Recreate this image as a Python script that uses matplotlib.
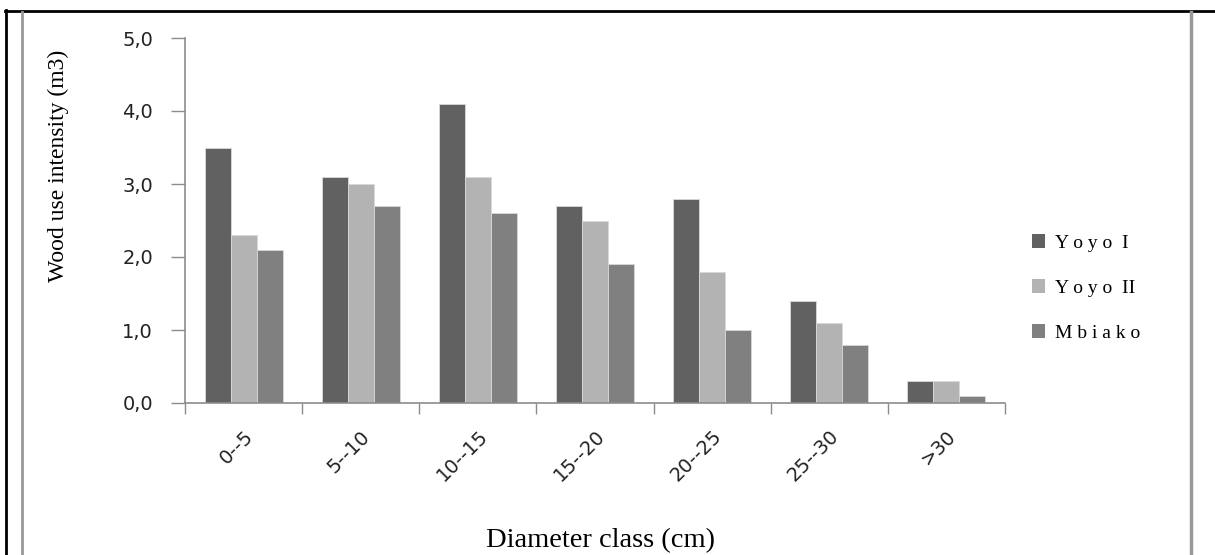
import numpy as np
import matplotlib.pyplot as plt
from matplotlib.lines import Line2D
from matplotlib.patches import Patch

# ----------------------------------------------------------------------
# Data
# ----------------------------------------------------------------------
classes = ['0--5', '5--10', '10--15', '15--20', '20--25', '25--30', '>30']
yoyo1 = [3.5, 3.1, 4.1, 2.7, 2.8, 1.4, 0.3]
yoyo2 = [2.3, 3.0, 3.1, 2.5, 1.8, 1.1, 0.3]
mbiako = [2.1, 2.7, 2.6, 1.9, 1.0, 0.8, 0.1]
series_names = ['Yoyo I', 'Yoyo II', 'Mbiako']
colors = ['#616161', '#b3b3b3', '#808080']

W, H = 1215, 555
fig = plt.figure(figsize=(W / 100, H / 100), dpi=100)
ax = fig.add_axes([185 / W, 1 - 403 / H, 820 / W, 365 / H])

x = np.arange(len(classes))
bw = 0.222
for i, (vals, c, name) in enumerate(zip([yoyo1, yoyo2, mbiako], colors, series_names)):
    ax.bar(x + (i - 1) * bw, vals, width=bw, color=c, edgecolor='#d9d9d9',
           linewidth=0.6, label=name, zorder=2)

ax.set_xlim(-0.5, len(classes) - 0.5)
ax.set_ylim(0, 5)
yt = np.arange(0, 5.01, 1.0)
ax.set_yticks(yt)
ax.set_yticklabels([f'{v:.1f}'.replace('.', ',') for v in yt],
                   fontsize=14, color='#222222', family='DejaVu Sans')

# category ticks sit between groups
ax.set_xticks(np.arange(-0.5, len(classes), 1.0))
ax.set_xticklabels([])
ax.set_xticks(x, minor=True)
ax.set_xticklabels(classes, minor=True, rotation=45, ha='right',
                   rotation_mode='anchor', fontsize=14, color='#222222',
                   family='DejaVu Sans')
ax.tick_params(axis='x', which='major', length=8, width=1, color='#8c8c8c', direction='out')
ax.tick_params(axis='x', which='minor', length=0, pad=17)
ax.tick_params(axis='y', length=10, width=1, color='#8c8c8c', pad=13)

for s in ['top', 'right']:
    ax.spines[s].set_visible(False)
for s in ['left', 'bottom']:
    ax.spines[s].set_color('#8c8c8c')
    ax.spines[s].set_linewidth(1.2)

# axis titles (serif, like the original)
fig.text(58 / W, 1 - 166 / H, 'Wood use intensity (m3)', rotation=90,
         ha='center', va='center', fontsize=17, family='Liberation Serif')
fig.text(601 / W, 1 - 541 / H, 'Diameter class (cm)', ha='center', va='center',
         fontsize=20.5, family='Liberation Serif')

# legend
handles = [Patch(facecolor=c, edgecolor='none') for c in colors]
fig.legend(handles, ['Y o y o  I', 'Y o y o  II', 'M b i a k o'], loc='upper left',
           bbox_to_anchor=(1014 / W, 1 - 217 / H), frameon=False,
           prop={'family': 'Liberation Serif', 'size': 14},
           handlelength=0.7, handleheight=0.7, handletextpad=0.5, labelspacing=1.4)

# document table borders around the figure
fig.add_artist(Line2D([5 / W, 1], [1 - 10.5 / H] * 2, color='black', linewidth=2,
                      transform=fig.transFigure))
fig.add_artist(Line2D([5.5 / W] * 2, [0, 1 - 10 / H], color='black', linewidth=2,
                      transform=fig.transFigure))
fig.add_artist(Line2D([22 / W] * 2, [0, 1 - 12 / H], color='#999999', linewidth=2,
                      transform=fig.transFigure))
fig.add_artist(Line2D([1191 / W] * 2, [0, 1 - 12 / H], color='#999999', linewidth=2.5,
                      transform=fig.transFigure))

fig.savefig('out.png', dpi=100)
